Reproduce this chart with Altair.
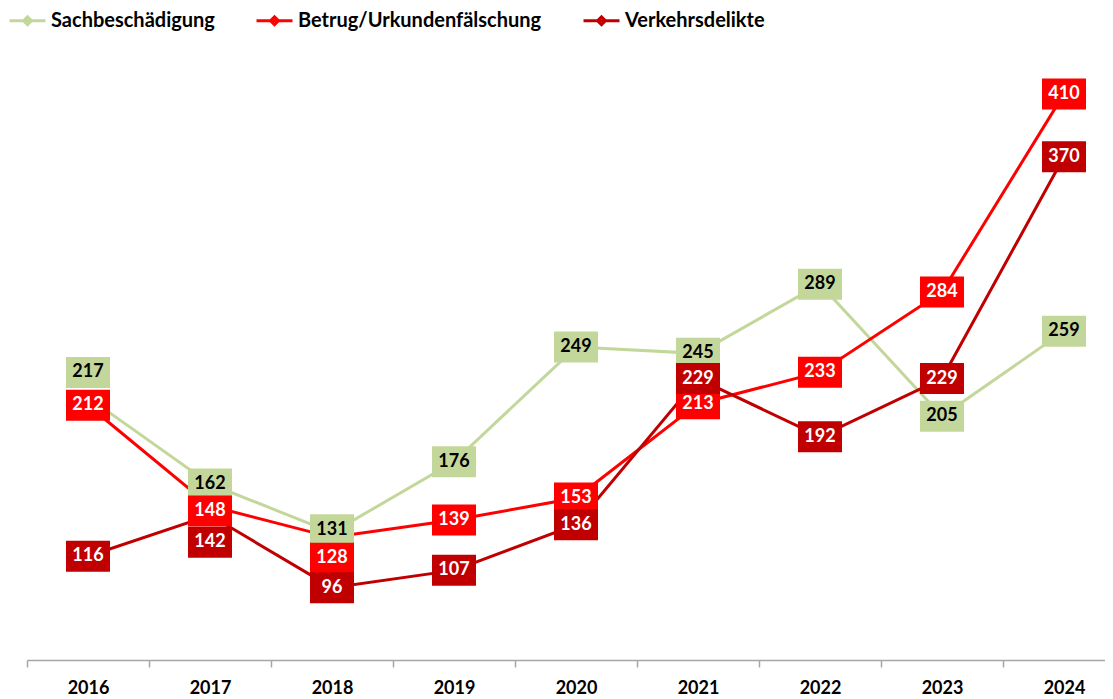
import altair as alt
import pandas as pd

# ---- data ----
years = ["2016", "2017", "2018", "2019", "2020", "2021", "2022", "2023", "2024"]
sachbeschaedigung = [217, 162, 131, 176, 249, 245, 289, 205, 259]
betrug = [212, 148, 128, 139, 153, 213, 233, 284, 410]
verkehr = [116, 142, 96, 107, 136, 229, 192, 229, 370]

series_names = ["Sachbeschädigung", "Betrug/Urkundenfälschung", "Verkehrsdelikte"]
series_values = [sachbeschaedigung, betrug, verkehr]

# ---- styling / layout ----
colors = ["#C4D79B", "#FF0000", "#C00000"]
text_colors = ["#000000", "#FFFFFF", "#FFFFFF"]
Y_MIN, Y_MAX = 50, 450
PLOT_W, PLOT_H = 1078, 629
BAND_RANGE = 1098
px_per_unit = PLOT_H / (Y_MAX - Y_MIN)
FONT = "Lato"

# label de-collision nudges (pixels, positive = down)
label_nudge_px = {
    ("Sachbeschädigung", "2016"): -25,
    ("Betrug/Urkundenfälschung", "2017"): 5,
    ("Verkehrsdelikte", "2017"): 27,
    ("Sachbeschädigung", "2018"): -3,
    ("Betrug/Urkundenfälschung", "2018"): 21,
}

rows = []
for name, vals in zip(series_names, series_values):
    for yr, v in zip(years, vals):
        nudge = label_nudge_px.get((name, yr), 0)
        rows.append({"series": name, "year": yr, "value": v,
                     "label_v": v - nudge / px_per_unit})
df = pd.DataFrame(rows)

x_enc = alt.X(
    "year:N", sort=years,
    scale=alt.Scale(range=[0, BAND_RANGE], paddingInner=0, paddingOuter=0),
    axis=alt.Axis(title=None, labelAngle=0, tickBand="extent",
                  domainColor="#A6A6A6", tickColor="#A6A6A6",
                  domainWidth=1.5, tickWidth=1.5, tickSize=7,
                  labelFont=FONT, labelFontWeight="bold", labelFontSize=18,
                  labelColor="#000000", labelBaseline="middle", labelPadding=21),
)
y_scale = alt.Scale(domain=[Y_MIN, Y_MAX], nice=False, zero=False)

legend_symbol = "M-1,0L1,0M-0.22,0L0,-0.22L0.22,0L0,0.22Z"

lines = alt.Chart(df).mark_line(strokeWidth=3).encode(
    x=x_enc,
    y=alt.Y("value:Q", scale=y_scale, axis=None),
    color=alt.Color(
        "series:N", sort=series_names,
        scale=alt.Scale(domain=series_names, range=colors),
        legend=alt.Legend(
            title=None, orient="none", direction="horizontal",
            legendX=-19, legendY=-30,
            symbolType=legend_symbol, symbolSize=1296, symbolStrokeWidth=3,
            labelFont=FONT, labelFontWeight="bold", labelFontSize=20,
            labelColor="#000000", labelOffset=4, columnPadding=35,
            labelLimit=0,
        ),
    ),
)

BOX_PATH = "M-1.42,-1L1.42,-1L1.42,1L-1.42,1Z"

layers = [lines]
for name, c, tc in zip(series_names, colors, text_colors):
    sub = df[df["series"] == name]
    box = alt.Chart(sub).mark_point(
        shape=BOX_PATH, filled=True, size=961, opacity=1, color=c, strokeWidth=0
    ).encode(x=x_enc, y=alt.Y("label_v:Q", scale=y_scale, axis=None))
    txt = alt.Chart(sub).mark_text(
        font=FONT, fontWeight="bold", fontSize=18, color=tc,
        baseline="middle", align="center",
    ).encode(x=x_enc, y=alt.Y("label_v:Q", scale=y_scale, axis=None),
             text=alt.Text("value:Q"))
    layers += [box, txt]

chart = alt.layer(*layers).properties(
    width=PLOT_W, height=PLOT_H,
    padding={"left": 19, "top": 23, "right": 0, "bottom": 38},
    autosize=alt.AutoSizeParams(type="none"),
    background="white",
).configure_view(strokeWidth=0, stroke="transparent")

chart.save("out.html", embed_options={"renderer": "svg", "actions": False})
